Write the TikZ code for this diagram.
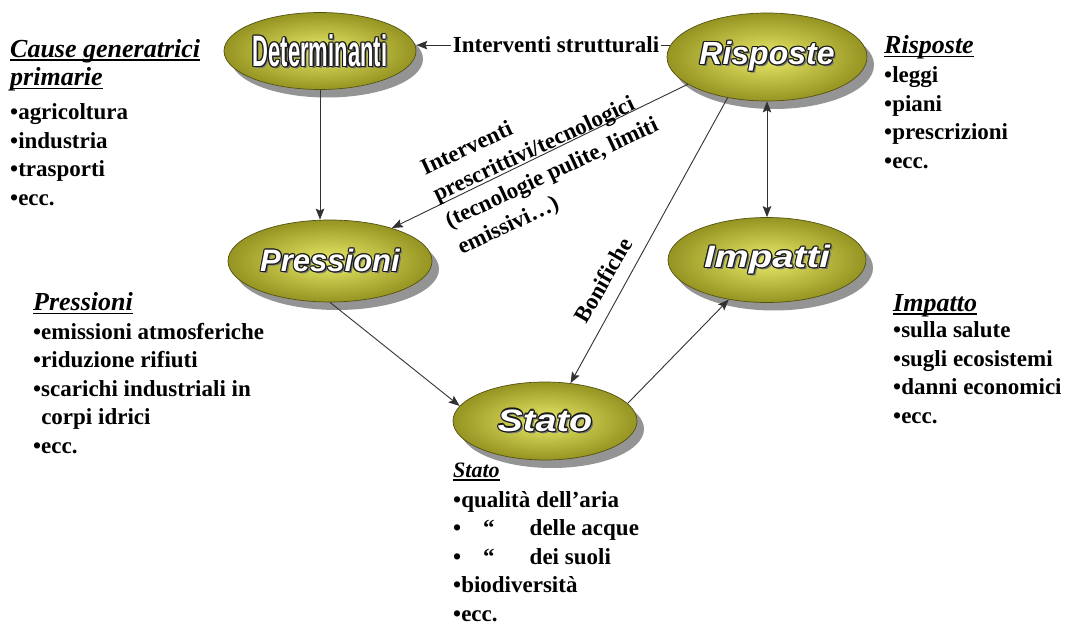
\documentclass[tikz,border=0pt]{standalone}
\usepackage{fontspec}
\usepackage{graphicx}
\setmainfont{Liberation Serif}
\newfontfamily\elfont{Liberation Sans}
\usetikzlibrary{shapes.geometric,arrows.meta,shadows}
\definecolor{olivein}{RGB}{232,234,105}
\definecolor{oliveout}{RGB}{150,148,34}
\definecolor{olivedark}{RGB}{84,82,16}
\definecolor{linecol}{RGB}{50,50,50}
\newcommand\olt[1]{{%
  \setbox0=\hbox{#1}%
  \leavevmode
  \rlap{\kern2.2pt\raisebox{-2.2pt}{\color{black!55}\copy0}}%
  \rlap{\kern-1.2pt\color{black!90}\copy0}%
  \rlap{\kern1.2pt\color{black!90}\copy0}%
  \rlap{\raisebox{1.2pt}{\color{black!90}\copy0}}%
  \rlap{\raisebox{-1.2pt}{\color{black!90}\copy0}}%
  \rlap{\kern-0.85pt\raisebox{0.85pt}{\color{black!90}\copy0}}%
  \rlap{\kern0.85pt\raisebox{0.85pt}{\color{black!90}\copy0}}%
  \rlap{\kern-0.85pt\raisebox{-0.85pt}{\color{black!90}\copy0}}%
  \rlap{\kern0.85pt\raisebox{-0.85pt}{\color{black!90}\copy0}}%
  {\color{white}\copy0}}}
\newcommand\hd[1]{{\setbox2=\hbox{#1}\rlap{\rule[-3.5pt]{\wd2}{1.5pt}}\box2}}
\newcommand\hdfont{\fontsize{26}{28.5}\selectfont\bfseries\itshape}
\newcommand\listfont{\fontsize{23}{28.5}\selectfont\bfseries}
\begin{document}
\begin{tikzpicture}[x=1pt,y=-1pt,
  >={Stealth[length=11pt,width=8.5pt,inset=2pt]},
  ell/.style={ellipse, inner sep=0pt, draw=olivedark, line width=0.7pt,
    inner color=olivein, outer color=oliveout,
    drop shadow={shadow xshift=7pt, shadow yshift=-8pt, fill=black!42, opacity=1},
    font=\elfont\bfseries\itshape\fontsize{32}{32}\selectfont},
  arr/.style={->, draw=linecol, line width=0.9pt},
  lst/.style={anchor=base west, align=left, inner sep=0pt, font=\listfont},
  lbl/.style={inner sep=0pt, align=left, font=\fontsize{23}{29}\selectfont\bfseries}]
\path[use as bounding box] (0,0) rectangle (1069,626);
\fill[white] (0,0) rectangle (1069,626);

% ellipses
\node[ell, minimum width=192pt, minimum height=77pt,
  font=\elfont\bfseries\fontsize{44}{44}\selectfont] (det) at (320,51)
  {\olt{\scalebox{0.5}[1]{Determinanti}}};
\node[ell, minimum width=200pt, minimum height=88pt] (ris) at (767,57)
  {\olt{Risposte}};
\node[ell, minimum width=204pt, minimum height=82pt] (pre) at (330,261)
  {\olt{\fontsize{31}{31}\selectfont Pressioni}};
\node[ell, minimum width=198pt, minimum height=85pt] (imp) at (767,260)
  {\olt{\fontsize{31}{31}\selectfont\scalebox{1.24}[1]{Impatti}}};
\node[ell, minimum width=184pt, minimum height=78pt] (sta) at (545,421)
  {\olt{\fontsize{31}{31}\selectfont\scalebox{1.22}[1]{Stato}}};

% connectors
\draw[arr] (ris.173) -- node[pos=0.45, fill=white, inner sep=1.5pt,
  font=\fontsize{23}{28}\selectfont\bfseries] (lab1) {Interventi strutturali}
  (ris.173 -| det.east);
\draw[arr] (det.south) -- (det.south |- pre.north);
\draw[arr] (ris.199) -- (pre.28);
\draw[arr] (ris.226) -- (sta.56);
\draw[<->, draw=linecol, line width=0.9pt] (ris.south) -- (ris.south |- imp.north);
\draw[arr] (pre.south) -- (sta.170);
\draw[arr] (sta.12) -- (imp.226);

% connector labels
\node[lbl, anchor=north west, rotate=25] (lab2) at (418,161)
  {Interventi\\prescrittivi/tecnologici\\(tecnologie pulite, limiti\\emissivi…)};
\node[lbl, rotate=60] (lab3) at (603,280) {Bonifiche};

% lists (anchored at the baseline of their last line)
\node[lst] (cause) at (10,205)
  {{\hdfont\hd{Cause generatrici}}\\{\hdfont\hd{primarie}}\\[5.5pt]•agricoltura\\•industria\\•trasporti\\•ecc.};
\node[lst] (lris) at (884,168)
  {{\hdfont\hd{Risposte}}\\[0.5pt]•leggi\\•piani\\•prescrizioni\\•ecc.};
\node[lst] (lpre) at (33,453)
  {{\hdfont\hd{Pressioni}}\\•emissioni atmosferiche\\•riduzione rifiuti\\•scarichi industriali in\\\hphantom{•}corpi idrici\\•ecc.};
\node[lst] (limp) at (893,423)
  {{\hdfont\hd{Impatto}}\\[-2pt]•sulla salute\\•sugli ecosistemi\\•danni economici\\•ecc.};
\node[lst] (lsta) at (453,621)
  {{\fontsize{22}{26}\selectfont\bfseries\itshape\hd{Stato}}\\[1.5pt]•qualità dell’aria\\•\hspace{22pt}“\hspace{35pt}delle acque\\•\hspace{22pt}“\hspace{35pt}dei suoli\\•biodiversità\\•ecc.};
\end{tikzpicture}
\end{document}
